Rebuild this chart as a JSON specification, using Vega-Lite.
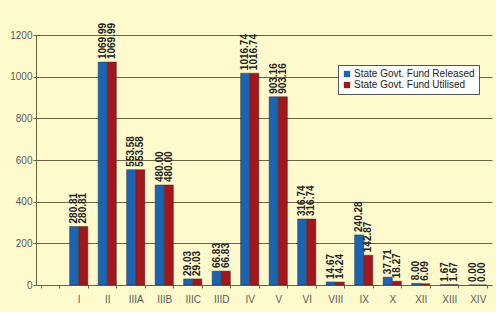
{
  "$schema": "https://vega.github.io/schema/vega-lite/v6.json",
  "width": 456,
  "height": 250,
  "autosize": {"type": "none"},
  "padding": {"left": 36, "top": 35, "right": 4, "bottom": 27},
  "background": "#fefacd",
  "config": {
    "view": {"stroke": null, "fill": "#fefacd"},
    "font": "Liberation Sans"
  },
  "data": {
    "values": [
      {"cat": "I", "series": "State Govt. Fund Released", "value": 280.81},
      {"cat": "I", "series": "State Govt. Fund Utilised", "value": 280.81},
      {"cat": "II", "series": "State Govt. Fund Released", "value": 1069.99},
      {"cat": "II", "series": "State Govt. Fund Utilised", "value": 1069.99},
      {"cat": "IIIA", "series": "State Govt. Fund Released", "value": 553.58},
      {"cat": "IIIA", "series": "State Govt. Fund Utilised", "value": 553.58},
      {"cat": "IIIB", "series": "State Govt. Fund Released", "value": 480.00},
      {"cat": "IIIB", "series": "State Govt. Fund Utilised", "value": 480.00},
      {"cat": "IIIC", "series": "State Govt. Fund Released", "value": 29.03},
      {"cat": "IIIC", "series": "State Govt. Fund Utilised", "value": 29.03},
      {"cat": "IIID", "series": "State Govt. Fund Released", "value": 66.83},
      {"cat": "IIID", "series": "State Govt. Fund Utilised", "value": 66.83},
      {"cat": "IV", "series": "State Govt. Fund Released", "value": 1016.74},
      {"cat": "IV", "series": "State Govt. Fund Utilised", "value": 1016.74},
      {"cat": "V", "series": "State Govt. Fund Released", "value": 903.16},
      {"cat": "V", "series": "State Govt. Fund Utilised", "value": 903.16},
      {"cat": "VI", "series": "State Govt. Fund Released", "value": 316.74},
      {"cat": "VI", "series": "State Govt. Fund Utilised", "value": 316.74},
      {"cat": "VIII", "series": "State Govt. Fund Released", "value": 14.67},
      {"cat": "VIII", "series": "State Govt. Fund Utilised", "value": 14.24},
      {"cat": "IX", "series": "State Govt. Fund Released", "value": 240.28},
      {"cat": "IX", "series": "State Govt. Fund Utilised", "value": 142.87},
      {"cat": "X", "series": "State Govt. Fund Released", "value": 37.71},
      {"cat": "X", "series": "State Govt. Fund Utilised", "value": 18.27},
      {"cat": "XII", "series": "State Govt. Fund Released", "value": 8.00},
      {"cat": "XII", "series": "State Govt. Fund Utilised", "value": 6.09},
      {"cat": "XIII", "series": "State Govt. Fund Released", "value": 1.67},
      {"cat": "XIII", "series": "State Govt. Fund Utilised", "value": 1.67},
      {"cat": "XIV", "series": "State Govt. Fund Released", "value": 0.00},
      {"cat": "XIV", "series": "State Govt. Fund Utilised", "value": 0.00}
    ]
  },
  "encoding": {
    "x": {
      "field": "cat",
      "type": "nominal",
      "sort": null,
      "scale": {
        "domain": [" ", "I", "II", "IIIA", "IIIB", "IIIC", "IIID", "IV", "V", "VI", "VIII", "IX", "X", "XII", "XIII", "XIV"],
        "paddingInner": 0.36,
        "paddingOuter": 0.18
      },
      "axis": {
        "title": null,
        "labelAngle": 0,
        "tickBand": "extent",
        "labelColor": "#5a5a5a",
        "labelFontSize": 10,
        "labelPadding": 6,
        "domainColor": "#6b6440",
        "tickColor": "#6b6440",
        "tickSize": 3,
        "grid": false
      }
    },
    "xOffset": {"field": "series", "type": "nominal"},
    "y": {
      "field": "value",
      "type": "quantitative",
      "scale": {"domain": [0, 1200], "nice": false},
      "axis": {
        "title": null,
        "format": "d",
        "values": [0, 200, 400, 600, 800, 1000, 1200],
        "labelColor": "#5a5a5a",
        "labelFontSize": 10,
        "labelPadding": 1,
        "gridColor": "#6b6440",
        "gridOpacity": 1,
        "gridWidth": 1,
        "domainColor": "#6b6440",
        "tickColor": "#6b6440",
        "tickSize": 3
      }
    }
  },
  "layer": [
    {
      "mark": {"type": "bar", "stroke": "#333333", "strokeWidth": 0.5},
      "encoding": {
        "color": {
          "field": "series",
          "type": "nominal",
          "scale": {"range": ["#1a64b4", "#a3161b"]},
          "legend": {
            "title": null,
            "orient": "none",
            "legendX": 302,
            "legendY": 30,
            "direction": "vertical",
            "fillColor": "#ffffff",
            "strokeColor": "#555555",
            "padding": 4,
            "symbolType": "square",
            "symbolSize": 40,
            "symbolStrokeWidth": 0,
            "labelFontSize": 10,
            "labelColor": "#222222",
            "labelOffset": 2,
            "rowPadding": 1,
            "labelLimit": 200
          }
        }
      }
    },
    {
      "mark": {
        "type": "text",
        "angle": 270,
        "align": "left",
        "baseline": "middle",
        "dx": 3,
        "fontSize": 10,
        "fontWeight": "bold",
        "color": "#222222"
      },
      "encoding": {
        "text": {"field": "value", "type": "quantitative", "format": ".2f"}
      }
    }
  ]
}
